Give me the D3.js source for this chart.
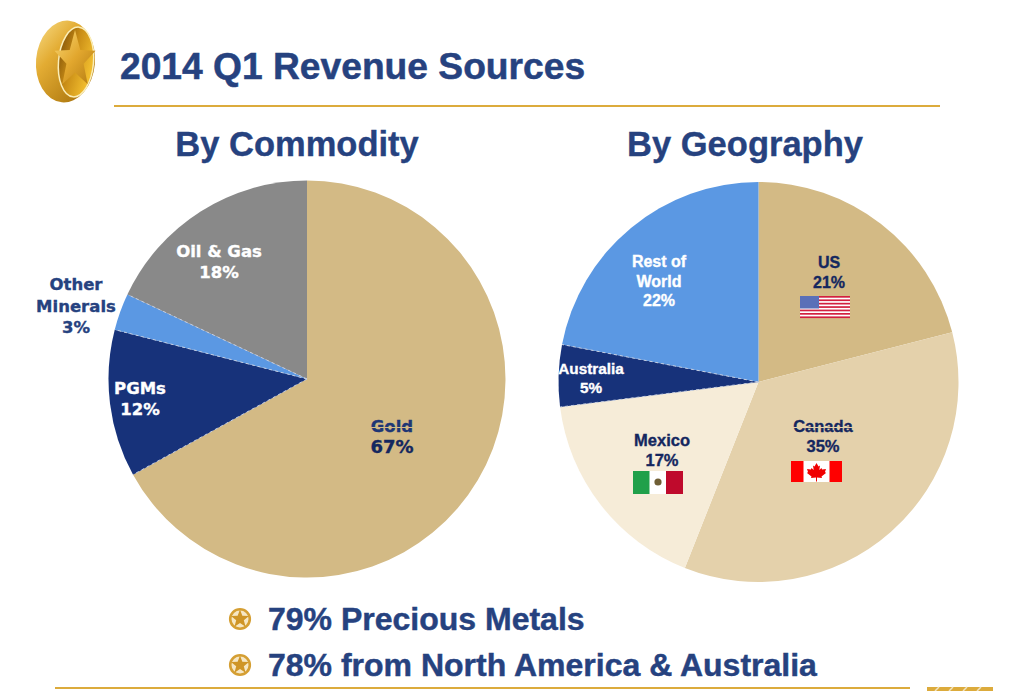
<!DOCTYPE html>
<html><head><meta charset="utf-8">
<script src="https://cdn.jsdelivr.net/npm/d3@7/dist/d3.min.js"></script>
<style>html,body{margin:0;padding:0;background:#fff;overflow:hidden}svg{display:block}</style>
</head><body><svg id="c" width="1025" height="691"></svg>
<script>
const commodityNames=["Gold","PGMs","Other Minerals","Oil & Gas"];
const commodityValues=[67,12,3,18];
const commodityColors=["#d3ba85","#17327a","#5b98e3","#898989"];
const geoNames=["US","Canada","Mexico","Australia","Rest of World"];
const geoValues=[21,35,17,5,22];
const geoColors=["#d3ba85","#e4d1ab","#f6ecd8","#17327a","#5b98e3"];
const bullets=["79% Precious Metals","78% from North America & Australia"];

const svg=d3.select("#c");
const navy="#26427f",dark="#14275f",gold="#dcab3c";
const defs=svg.append("defs");
function grad(id,stops,x2,y2){
  const g=defs.append("linearGradient").attr("id",id).attr("x1",0).attr("y1",0).attr("x2",x2).attr("y2",y2);
  stops.forEach(s=>g.append("stop").attr("offset",s[0]).attr("stop-color",s[1]));
}
grad("ring",[["0","#f8dc86"],["0.35","#e3ac33"],["0.8","#b57f14"],["1","#8a5a0c"]],1,1);
grad("inner",[["0","#7a4c06"],["0.5","#c98d16"],["1","#f0bc2e"]],1,0.4);
grad("star",[["0","#f9d976"],["0.5","#e2a72e"],["1","#b27a10"]],1,1);

function starPath(cx,cy,R,r){
  const p=[];for(let i=0;i<10;i++){const a=-Math.PI/2+i*Math.PI/5,q=i%2?r:R;p.push([cx+q*Math.cos(a),cy+q*Math.sin(a)]);}
  return d3.line()(p)+"Z";
}
function text(x,y,s,size,fill,fam,anchor,sw){
  return svg.append("text").attr("x",x).attr("y",y).text(s).attr("font-size",size).attr("fill",fill)
    .attr("font-family",fam).attr("font-weight","bold").attr("text-anchor",anchor||"middle")
    .attr("stroke",fill).attr("stroke-width",sw===undefined?0.35:sw);
}
const ARIAL="'Liberation Sans',Arial,sans-serif",VERD="'DejaVu Sans',Verdana,sans-serif";

// logo
const logo=svg.append("g");
logo.append("ellipse").attr("cx",65.5).attr("cy",61.5).attr("rx",29.5).attr("ry",41).attr("fill","url(#ring)").attr("transform","rotate(5 65.5 61.5)");
logo.append("ellipse").attr("cx",76).attr("cy",62).attr("rx",17.5).attr("ry",35).attr("fill","url(#inner)").attr("stroke","#fbeeb8").attr("stroke-width",1.5).attr("transform","rotate(5 76 62)");
logo.append("path").attr("d",starPath(0,0,30,12.5)).attr("transform","translate(75,60) scale(0.72,1)").attr("fill","url(#star)");

// header
text(120,79,"2014 Q1 Revenue Sources",37.2,navy,ARIAL,"start",0.5);
svg.append("rect").attr("x",114).attr("y",105).attr("width",826).attr("height",2).attr("fill",gold);
text(297,156,"By Commodity",34.5,navy,ARIAL);
text(745,156,"By Geography",34.5,navy,ARIAL);

function pie(cx,cy,rad,vals,cols,dashed){
  const arcs=d3.pie().sort(null)(vals);
  const arc=d3.arc().innerRadius(0).outerRadius(rad);
  const g=svg.append("g").attr("transform",`translate(${cx},${cy})`);
  g.selectAll("path").data(arcs).join("path").attr("d",arc).attr("fill",(d,i)=>cols[i]);
  // dashed light seams along the slice edges, taken from the pie layout's angles
  g.selectAll("line").data(dashed.map(i=>arcs[i].startAngle)).join("line")
    .attr("x2",a=>rad*Math.sin(a)).attr("y2",a=>-rad*Math.cos(a))
    .attr("stroke","#c4cde0").attr("stroke-width",1).attr("stroke-dasharray","3 3");
}
pie(307,379,198.5,commodityValues,commodityColors,[1,2,3]);
pie(758.5,382,200,geoValues,geoColors,[3,4]);

function label(x,y,lines,size,fill,lh,fam){
  lines.forEach((l,i)=>text(x,y+i*lh,l,size,fill,fam||VERD));
}
const pct=v=>v+"%";
label(392,432,[commodityNames[0]],16.5,"#1e3675",21);
svg.append("rect").attr("x",371).attr("y",427).attr("width",42).attr("height",1).attr("fill",commodityColors[0]);
label(392,453,[pct(commodityValues[0])],18,dark,21);
label(140,394,[commodityNames[1],pct(commodityValues[1])],16.5,"#fff",21);
label(76,290,["Other","Minerals",pct(commodityValues[2])],16.5,navy,21.5);
label(219,257,[commodityNames[3],pct(commodityValues[3])],16.5,"#fff",21);

label(829,268,[geoNames[0],pct(geoValues[0])],16,dark,20,ARIAL);
label(823,432,[geoNames[1],pct(geoValues[1])],16.5,dark,20,ARIAL);
svg.append("rect").attr("x",793).attr("y",427).attr("width",60).attr("height",1).attr("fill",geoColors[1]);
label(662,446,[geoNames[2],pct(geoValues[2])],16.5,dark,20,ARIAL);
label(591,374,[geoNames[3],pct(geoValues[3])],15.3,"#fff",19,ARIAL);
label(659,267,["Rest of","World",pct(geoValues[4])],16,"#fff",19.5,ARIAL);

// US flag
const us=svg.append("g").attr("transform","translate(800,296)");
us.append("rect").attr("width",50).attr("height",22).attr("fill","#fff");
d3.range(7).forEach(i=>us.append("rect").attr("y",i*3.4).attr("width",50).attr("height",1.7).attr("fill","#d2203f"));
us.append("rect").attr("width",19).attr("height",12.5).attr("fill","#5a70b8");
// Mexico flag
const mx=svg.append("g").attr("transform","translate(633,471)");
mx.append("rect").attr("width",17).attr("height",23).attr("fill","#20a04a");
mx.append("rect").attr("x",16.5).attr("width",17).attr("height",23).attr("fill","#fff");
mx.append("rect").attr("x",33).attr("width",17).attr("height",23).attr("fill","#bf0a2c");
mx.append("circle").attr("cx",25).attr("cy",11).attr("r",3.6).attr("fill","#6f5f35");
// Canada flag
const ca=svg.append("g").attr("transform","translate(791,461)");
ca.append("rect").attr("width",51).attr("height",21).attr("fill","#fff");
ca.append("rect").attr("width",12.5).attr("height",21).attr("fill","#ff0000");
ca.append("rect").attr("x",38.5).attr("width",12.5).attr("height",21).attr("fill","#ff0000");
ca.append("path").attr("transform","translate(25.5,10.5)").attr("fill","#f00000")
  .attr("d",d3.line()([[0,-8.5],[2,-5],[3.5,-6],[2.8,-1.5],[5,-3.5],[5.6,-2],[9.5,-2.5],[8.5,0.5],[9.5,1.5],[5,5],[5.5,6.5],[0.5,6],[0.5,10],[-0.5,10],[-0.5,6],[-5.5,6.5],[-5,5],[-9.5,1.5],[-8.5,0.5],[-9.5,-2.5],[-5.6,-2],[-5,-3.5],[-2.8,-1.5],[-3.5,-6],[-2,-5]])+"Z");

// bullets
bullets.forEach((b,i)=>{
  const y=[619,665][i];
  text(268,y+11,b,32,navy,ARIAL,"start",0.45);
  svg.append("circle").attr("cx",240).attr("cy",y).attr("r",9.8).attr("fill","#f6e7c4").attr("stroke","#d59f33").attr("stroke-width",2.6);
  svg.append("path").attr("d",starPath(240,y,9.5,4)).attr("fill","#cf9526");
});

// footer
svg.append("rect").attr("x",55).attr("y",687).attr("width",855).attr("height",2).attr("fill",gold);
svg.append("rect").attr("x",927).attr("y",687).attr("width",66).attr("height",4).attr("fill",gold);
d3.range(4).forEach(i=>svg.append("line").attr("x1",935+i*14).attr("x2",939+i*14).attr("y1",691).attr("y2",687)
  .attr("stroke","#f1e3c0").attr("stroke-width",1.5));
</script></body></html>
